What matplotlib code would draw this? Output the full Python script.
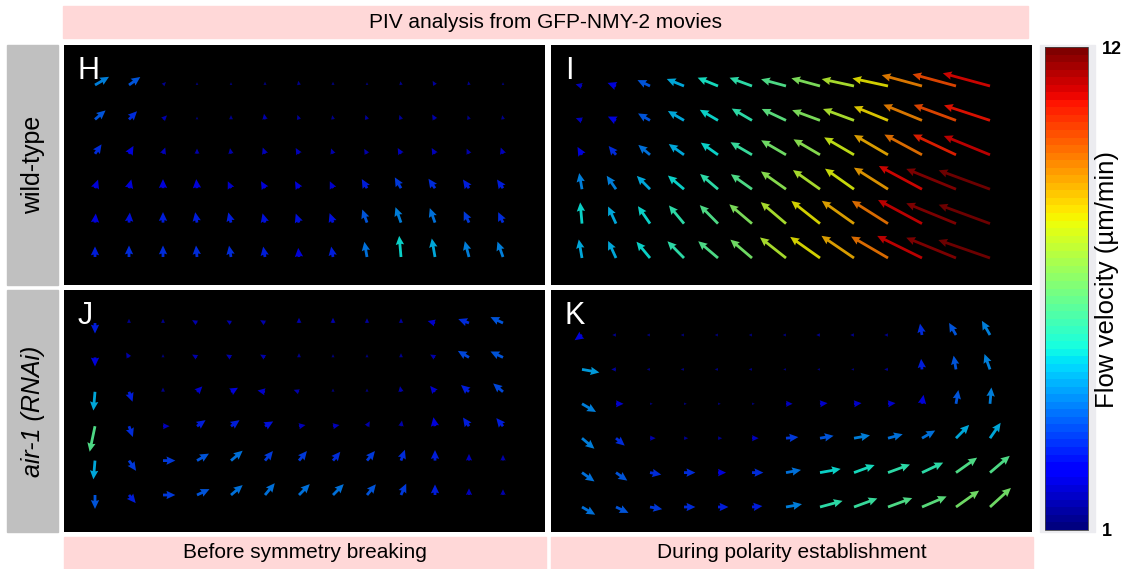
import numpy as np
import matplotlib
matplotlib.use("Agg")
import matplotlib.pyplot as plt
from matplotlib.patches import Rectangle

# ---- data: flow speed (um/min) and direction (deg, 0 = right, 90 = up) on a 6 x 13 PIV grid ----
H_speed = [[4.0, 3.5, 1.5, 1.2, 1.2, 1.3, 1.5, 1.3, 1.2, 1.4, 1.6, 1.4, 1.2],
           [3.5, 3.0, 1.8, 1.2, 1.5, 1.8, 1.6, 1.5, 1.6, 1.6, 1.8, 1.5, 1.5],
           [3.0, 2.5, 2.0, 1.7, 1.8, 2.0, 2.0, 1.8, 1.8, 2.0, 2.0, 1.8, 2.0],
           [2.5, 2.5, 2.5, 2.5, 2.2, 2.3, 2.3, 2.2, 2.8, 3.2, 3.0, 2.8, 2.8],
           [2.5, 2.7, 2.8, 2.8, 2.8, 2.6, 2.6, 2.7, 3.5, 4.0, 3.8, 3.2, 3.0],
           [2.8, 3.0, 3.0, 3.0, 3.0, 2.8, 2.5, 2.8, 3.8, 5.0, 4.5, 4.0, 4.0]]
H_angle = [[30, 35, 45, 90, 90, 90, 100, 90, 90, 100, 120, 100, 90],
           [40, 45, 45, 90, 90, 100, 110, 100, 110, 110, 120, 110, 100],
           [55, 60, 70, 90, 100, 110, 120, 110, 120, 120, 120, 115, 110],
           [70, 75, 90, 95, 115, 120, 120, 115, 120, 120, 125, 125, 125],
           [85, 85, 90, 100, 105, 105, 110, 110, 110, 110, 110, 115, 115],
           [90, 90, 90, 95, 100, 100, 95, 100, 100, 95, 100, 105, 110]]

I_speed = [[2.0, 2.5, 3.5, 4.5, 5.2, 5.6, 6.0, 6.8, 7.5, 8.2, 9.3, 10.0, 10.8],
           [2.0, 2.5, 3.5, 4.5, 5.0, 5.5, 6.2, 6.8, 7.5, 8.3, 9.3, 10.0, 10.7],
           [2.5, 3.0, 3.8, 4.5, 5.0, 5.8, 6.6, 7.0, 7.8, 8.8, 9.5, 10.5, 11.0],
           [4.0, 4.0, 4.5, 5.0, 5.5, 6.0, 7.0, 7.5, 8.0, 9.0, 10.8, 11.8, 12.0],
           [5.0, 4.5, 5.0, 5.5, 6.0, 6.8, 7.5, 8.2, 8.8, 9.5, 11.0, 11.8, 12.0],
           [4.5, 4.5, 5.0, 5.5, 6.0, 6.5, 7.5, 8.2, 8.8, 9.5, 11.0, 11.8, 12.0]]
I_angle = [[165, 160, 155, 158, 158, 160, 165, 165, 168, 168, 165, 165, 165],
           [160, 155, 150, 150, 150, 150, 155, 160, 160, 158, 158, 160, 162],
           [120, 130, 140, 145, 145, 150, 150, 150, 150, 150, 152, 155, 158],
           [100, 125, 135, 140, 140, 145, 145, 145, 145, 148, 152, 158, 160],
           [95, 115, 125, 130, 135, 140, 140, 142, 145, 148, 152, 158, 160],
           [100, 115, 130, 135, 140, 140, 142, 145, 146, 150, 154, 158, 161]]

J_speed = [[2.8, 1.5, 1.5, 1.8, 1.7, 1.8, 1.7, 1.7, 1.6, 1.6, 2.2, 3.0, 3.5],
           [2.5, 1.8, 1.3, 1.8, 1.8, 1.8, 1.5, 1.3, 1.3, 1.5, 1.8, 3.3, 3.5],
           [4.5, 2.8, 1.5, 2.2, 2.3, 2.2, 1.8, 1.3, 1.3, 1.8, 2.2, 2.8, 3.3],
           [6.0, 3.0, 2.0, 2.8, 2.8, 2.6, 2.0, 2.0, 1.8, 1.8, 2.5, 2.8, 2.8],
           [4.5, 3.2, 3.2, 3.5, 3.8, 3.2, 3.2, 3.0, 3.2, 3.0, 2.8, 2.0, 1.8],
           [3.5, 2.8, 3.2, 3.5, 3.8, 3.8, 3.8, 3.8, 3.5, 3.2, 2.8, 2.0, 1.8]]
J_angle = [[270, 90, 90, 150, 150, 150, 90, 90, 90, 90, 165, 160, 155],
           [270, 120, 90, 150, 150, 150, 90, 90, 90, 90, 150, 150, 155],
           [265, 290, 90, 45, 30, 170, 160, 90, 90, 100, 130, 140, 140],
           [258, 290, 0, 35, 35, 30, 10, 10, 60, 80, 100, 125, 130],
           [265, 305, 0, 30, 40, 50, 50, 50, 50, 70, 90, 90, 90],
           [270, 310, 0, 25, 40, 50, 45, 45, 50, 65, 90, 90, 90]]

K_speed = [[2.5, 1.4, 1.3, 1.3, 1.3, 1.3, 1.3, 1.4, 1.4, 1.4, 3.0, 3.5, 4.0],
           [4.3, 1.6, 1.3, 1.3, 1.3, 1.3, 1.2, 1.2, 1.2, 1.4, 2.8, 3.5, 4.0],
           [4.0, 2.2, 1.2, 1.2, 1.2, 1.2, 2.0, 2.2, 2.2, 2.2, 2.5, 3.5, 4.0],
           [4.0, 3.0, 1.8, 1.5, 1.5, 2.0, 3.2, 3.5, 4.0, 3.8, 3.8, 4.5, 4.5],
           [3.8, 3.5, 3.0, 3.0, 2.3, 3.0, 3.8, 5.0, 5.2, 5.5, 5.5, 6.0, 6.0],
           [3.8, 3.5, 3.2, 3.0, 2.8, 2.8, 4.0, 5.5, 5.8, 6.0, 6.2, 6.5, 6.5]]
K_angle = [[215, 180, 180, 180, 180, 180, 180, 180, 180, 180, 100, 120, 120],
           [350, 180, 180, 180, 180, 180, 180, 180, 180, 180, 95, 100, 110],
           [330, 0, 0, 0, 0, 0, 0, 5, 5, 5, 80, 80, 85],
           [320, 320, 0, 0, 0, 0, 5, 10, 10, 15, 30, 45, 55],
           [325, 325, 350, 0, 0, 0, 10, 10, 20, 20, 25, 35, 40],
           [330, 335, 350, 0, 0, 5, 10, 15, 20, 20, 23, 35, 42]]

panel_letters = ["H", "I", "J", "K"]
row_labels = ["wild-type", "air-1 (RNAi)"]
col_labels = ["Before symmetry breaking", "During polarity establishment"]
title = "PIV analysis from GFP-NMY-2 movies"
cbar_label = "Flow velocity (\u00b5m/min)"
vmin, vmax = 1, 12

W, Hpx = 1127, 569
fig = plt.figure(figsize=(W / 100, Hpx / 100), dpi=100)
plt.rcParams['font.family'] = ['Liberation Sans', 'DejaVu Sans']


def px_axes(x0, y0, x1, y1, **kw):
    return fig.add_axes([x0 / W, 1 - y1 / Hpx, (x1 - x0) / W, (y1 - y0) / Hpx], **kw)


def px_box(x0, y0, x1, y1, color):
    fig.patches.append(Rectangle((x0 / W, 1 - y1 / Hpx), (x1 - x0) / W, (y1 - y0) / Hpx,
                                 transform=fig.transFigure, color=color, zorder=-5))


jet = matplotlib.colormaps['jet'].resampled(64)

# panel boxes in pixels and small vertical grid offsets
panels = [((64, 45, 545, 285), H_speed, H_angle, 0),
          ((551, 45, 1032, 285), I_speed, I_angle, 1),
          ((64, 290, 545, 532), J_speed, J_angle, -7),
          ((551, 290, 1032, 532), K_speed, K_angle, 5)]

cols = np.arange(1, 14)
rows = np.arange(1, 7)
X, Y = np.meshgrid(cols, rows)
dx, dy = 34.0, 34.4  # grid spacing in pixels

q = None
for (box, spd, ang, yoff), letter in zip(panels, panel_letters):
    x0, y0, x1, y1 = box
    ax = px_axes(x0, y0, x1, y1)
    ax.set_facecolor('black')
    pw, ph = x1 - x0, y1 - y0
    # col c sits at 31 + dx*(c-1) px, row r at 40 + yoff + dy*(r-1) px
    ax.set_xlim((0 - 31) / dx + 1, (pw - 31) / dx + 1)
    ax.set_ylim((ph - 40 - yoff) / dy + 1, (0 - 40 - yoff) / dy + 1)
    s = np.array(spd)
    a = np.deg2rad(np.array(ang))
    L = np.clip(4.8 * s - 3, 1.5, None) / dx
    U = L * np.cos(a)
    V = -L * np.sin(a)
    q = ax.quiver(X, Y, U, V, s, cmap=jet, clim=(vmin, vmax), angles='xy',
                  scale_units='xy', scale=1, pivot='tail', width=0.0058,
                  headwidth=3.0, headlength=3.2, headaxislength=2.9,
                  minlength=0.5, alpha=0.85)
    ax.set_xticks([])
    ax.set_yticks([])
    for sp in ax.spines.values():
        sp.set_visible(False)
    ax.text(0.029, 0.955, letter, transform=ax.transAxes, color='white',
            fontsize=22, ha='left', va='top')

# label boxes
pink = '#ffd8d8'
grey = '#c0c0c0'
px_box(63, 6, 1028, 38, pink)
fig.text((63 + 1028) / 2 / W, 1 - 22 / Hpx, title, ha='center', va='center', fontsize=15)
for (x0, x1), lab in zip([(64, 546), (551, 1033)], col_labels):
    px_box(x0, 537, x1, 569, pink)
    fig.text((x0 + x1) / 2 / W, 1 - 553 / Hpx, lab, ha='center', va='center', fontsize=15)
for (y0, y1), lab, st in zip([(45, 285), (290, 532)], row_labels, ['normal', 'italic']):
    px_box(7, y0, 58, y1, grey)
    fig.text(33 / W, 1 - (y0 + y1) / 2 / Hpx, lab, ha='center', va='center',
             rotation=90, fontsize=18, style=st)

# colour bar
px_box(1040, 45, 1095, 532, '#ececf0')
cax = px_axes(1045, 47, 1088, 530)
cb = fig.colorbar(q, cax=cax, ticks=[vmin, vmax])
cb.outline.set_linewidth(0.6)
cb.outline.set_edgecolor('#444444')
cb.solids.set_alpha(1)
cax.tick_params(length=0, pad=10)
for t in cax.get_yticklabels():
    t.set_fontweight('bold')
    t.set_fontsize(13)
fig.text(1107 / W, 1 - 280 / Hpx, cbar_label, rotation=90, ha='center', va='center',
         fontsize=18.5)

fig.savefig('out.png', dpi=100)
